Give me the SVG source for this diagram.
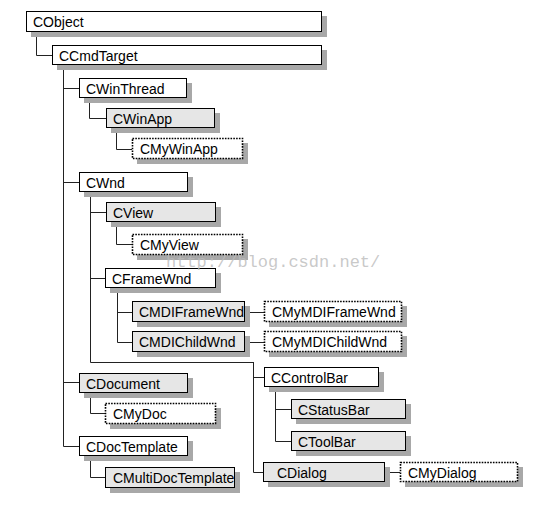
<svg xmlns="http://www.w3.org/2000/svg" width="536" height="506" viewBox="0 0 536 506">
<style>
.sh{fill:#a8a8a8}
.w{fill:#fff;stroke:#000;stroke-width:1}
.g{fill:#e6e6e6;stroke:#000;stroke-width:1}
.d{fill:#fff;stroke:#000;stroke-width:1.6;stroke-dasharray:1.6,1.2}
.t{font-family:"Liberation Sans",Arial,sans-serif;font-size:14px;fill:#000}
.c{fill:none;stroke:#222;stroke-width:1}
.wm{font-family:"Liberation Mono","DejaVu Sans Mono",monospace;font-size:17px;fill:#bbb;fill-opacity:0.8}
</style>
<rect width="536" height="506" fill="#fff"/>
<g id="connectors" class="c">
<path d="M36.5,32 V55.5 H52"/>
<path d="M63.5,65 V446.5 H79 M63.5,88.5 H79 M63.5,182.5 H79 M63.5,382.5 H79"/>
<path d="M89.5,98 V118.5 H106"/>
<path d="M116.5,128 V149.5 H132"/>
<path d="M90.5,192 V362.5 H253.5 M90.5,212.5 H106 M90.5,278.5 H105"/>
<path d="M116.5,222 V244.5 H132"/>
<path d="M117.5,288 V342.5 H132 M117.5,312.5 H132"/>
<path d="M245,312.5 H264 M245,342.5 H264"/>
<path d="M253.5,362 V472.5 H263 M253.5,377.5 H264"/>
<path d="M275.5,387 V441.5 H291 M275.5,409.5 H291"/>
<path d="M385,472.5 H400"/>
<path d="M90.5,393 V413.5 H105"/>
<path d="M90.5,455 V477.5 H105"/>
</g>
<g id="CObject"><rect class="sh" x="31" y="16" width="296" height="21"/><rect class="w" x="26.5" y="11.5" width="295" height="20"/><text class="t" x="33" y="27">CObject</text></g>
<g id="CCmdTarget"><rect class="sh" x="57" y="50" width="270" height="20"/><rect class="w" x="52.5" y="45.5" width="269" height="19"/><text class="t" x="59" y="60.5">CCmdTarget</text></g>
<g id="CWinThread"><rect class="sh" x="84" y="83" width="108" height="20"/><rect class="w" x="79.5" y="78.5" width="107" height="19"/><text class="t" x="86" y="93.5">CWinThread</text></g>
<g id="CWinApp"><rect class="sh" x="111" y="113" width="109" height="20"/><rect class="g" x="106.5" y="108.5" width="108" height="19"/><text class="t" x="113" y="123.5">CWinApp</text></g>
<g id="CMyWinApp"><rect class="sh" x="137" y="143" width="111" height="21"/><rect class="d" x="132.5" y="138.5" width="110" height="20"/><text class="t" x="140" y="154">CMyWinApp</text></g>
<g id="CWnd"><rect class="sh" x="84" y="177" width="109" height="20"/><rect class="w" x="79.5" y="172.5" width="108" height="19"/><text class="t" x="86" y="187.5">CWnd</text></g>
<g id="CView"><rect class="sh" x="111" y="207" width="110" height="20"/><rect class="g" x="106.5" y="202.5" width="109" height="19"/><text class="t" x="113" y="217.5">CView</text></g>
<g id="CMyView"><rect class="sh" x="137" y="239" width="111" height="21"/><rect class="d" x="132.5" y="234.5" width="110" height="20"/><text class="t" x="140" y="250">CMyView</text></g>
<g id="CFrameWnd"><rect class="sh" x="110" y="273" width="111" height="20"/><rect class="w" x="105.5" y="268.5" width="110" height="19"/><text class="t" x="112" y="283.5">CFrameWnd</text></g>
<g id="CMDIFrameWnd"><rect class="sh" x="137" y="306" width="113" height="21"/><rect class="g" x="132.5" y="301.5" width="112" height="20"/><text class="t" x="139" y="317">CMDIFrameWnd</text></g>
<g id="CMyMDIFrameWnd"><rect class="sh" x="269" y="306" width="138" height="21"/><rect class="d" x="264.5" y="301.5" width="137" height="20"/><text class="t" x="272" y="317">CMyMDIFrameWnd</text></g>
<g id="CMDIChildWnd"><rect class="sh" x="137" y="336" width="113" height="21"/><rect class="g" x="132.5" y="331.5" width="112" height="20"/><text class="t" x="139" y="347">CMDIChildWnd</text></g>
<g id="CMyMDIChildWnd"><rect class="sh" x="269" y="336" width="138" height="21"/><rect class="d" x="264.5" y="331.5" width="137" height="20"/><text class="t" x="272" y="347">CMyMDIChildWnd</text></g>
<g id="CDocument"><rect class="sh" x="84" y="378" width="109" height="20"/><rect class="g" x="79.5" y="373.5" width="108" height="19"/><text class="t" x="86" y="388.5">CDocument</text></g>
<g id="CMyDoc"><rect class="sh" x="110" y="408" width="111" height="21"/><rect class="d" x="105.5" y="403.5" width="110" height="20"/><text class="t" x="113" y="419">CMyDoc</text></g>
<g id="CDocTemplate"><rect class="sh" x="84" y="441" width="109" height="20"/><rect class="w" x="79.5" y="436.5" width="108" height="19"/><text class="t" x="86" y="451.5">CDocTemplate</text></g>
<g id="CMultiDocTemplate"><rect class="sh" x="110" y="472" width="130" height="21"/><rect class="g" x="105.5" y="467.5" width="129" height="20"/><text class="t" x="113" y="483">CMultiDocTemplate</text></g>
<g id="CControlBar"><rect class="sh" x="269" y="372" width="115" height="20"/><rect class="w" x="264.5" y="367.5" width="114" height="19"/><text class="t" x="271" y="382.5">CControlBar</text></g>
<g id="CStatusBar"><rect class="sh" x="296" y="404" width="115" height="20"/><rect class="g" x="291.5" y="399.5" width="114" height="19"/><text class="t" x="298" y="414.5">CStatusBar</text></g>
<g id="CToolBar"><rect class="sh" x="296" y="436" width="115" height="20"/><rect class="g" x="291.5" y="431.5" width="114" height="19"/><text class="t" x="298" y="446.5">CToolBar</text></g>
<g id="CDialog"><rect class="sh" x="268" y="467" width="122" height="20"/><rect class="g" x="263.5" y="462.5" width="121" height="19"/><text class="t" x="277" y="477.5">CDialog</text></g>
<g id="CMyDialog"><rect class="sh" x="405" y="467" width="118" height="20"/><rect class="d" x="400.5" y="462.5" width="117" height="19"/><text class="t" x="408" y="477.5">CMyDialog</text></g>
<text class="wm" x="166" y="267">http://blog.csdn.net/</text>
</svg>
